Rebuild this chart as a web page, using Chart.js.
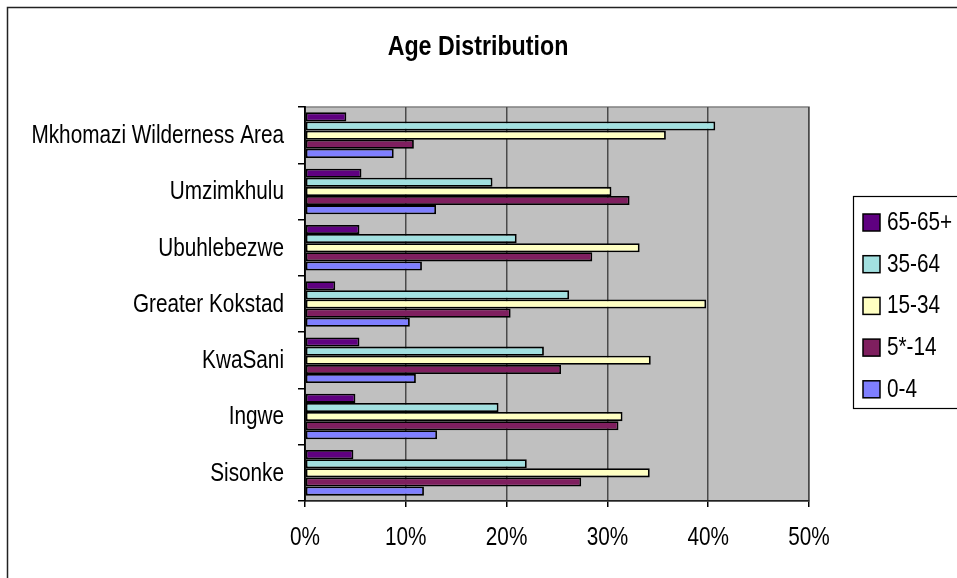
<!DOCTYPE html>
<html>
<head>
<meta charset="utf-8">
<title>Age Distribution</title>
<script src="https://cdn.jsdelivr.net/npm/chart.js@4.4.1/dist/chart.umd.min.js"></script>
<style>
    html, body { margin: 0; padding: 0; background: #fff; }
    #wrap { position: relative; width: 957px; height: 578px; }
</style>
</head>
<body>
<div id="wrap"><canvas id="ageChart"></canvas></div>
<script>
const FONT = "'Liberation Sans', Arial, sans-serif";
const NARROW = 0.83; // horizontal squeeze to get an Arial Narrow look

const areas = ['Mkhomazi Wilderness Area', 'Umzimkhulu', 'Ubuhlebezwe', 'Greater Kokstad', 'KwaSani', 'Ingwe', 'Sisonke'];
const seriesNames = ['65-65+', '35-64', '15-34', '5*-14', '0-4'];
const seriesColors = ['#5f0080', '#a2e0e0', '#ffffc2', '#7f1f5f', '#7f7fff'];

// percentages per area, same order as areas
const age65 = [4.1, 5.6, 5.4, 3.0, 5.4, 5.0, 4.8];
const age35 = [40.7, 18.6, 21.0, 26.2, 23.7, 19.2, 22.0];
const age15 = [35.8, 30.4, 33.2, 39.8, 34.3, 31.5, 34.2];
const age5 = [10.8, 32.2, 28.5, 20.4, 25.4, 31.1, 27.4];
const age0 = [8.8, 13.0, 11.6, 10.4, 11.0, 13.1, 11.8];

const xTicks = [0, 10, 20, 30, 40, 50];
const xTickLabels = ['0%', '10%', '20%', '30%', '40%', '50%'];

(function(){
    let seriesValues = [age65, age35, age15, age5, age0];
    let datasets = seriesNames.map(function(name, i){
        return {
            label: name,
            data: seriesValues[i],
            backgroundColor: seriesColors[i],
            borderColor: '#000',
            borderWidth: 1.8,
            borderSkipped: false,
            barPercentage: 1,
            categoryPercentage: 0.81
        };
    });

    function narrowText(ctx, text, x, y, align) {
        ctx.save();
        ctx.translate(x, y);
        ctx.scale(NARROW, 1);
        ctx.textAlign = align;
        ctx.fillText(text, 0, 0);
        ctx.restore();
    }

    // grey plot background, outer frame, title, axis labels and boxed legend
    const frame = {
        id: 'frame',
        beforeDraw(chart) {
            let ctx = chart.ctx;
            let a = chart.chartArea;
            ctx.save();
            ctx.fillStyle = '#c0c0c0';
            ctx.fillRect(a.left, a.top, a.right - a.left, a.bottom - a.top);
            ctx.strokeStyle = '#808080';
            ctx.lineWidth = 1.5;
            ctx.strokeRect(a.left, a.top, a.right - a.left, a.bottom - a.top);
            ctx.restore();
        },
        afterDraw(chart) {
            let ctx = chart.ctx;
            let xs = chart.scales.x;
            let ys = chart.scales.y;
            ctx.save();
            ctx.strokeStyle = '#222';
            ctx.lineWidth = 1.5;
            ctx.strokeRect(7.5, 7.5, 1000, 1000);

            ctx.fillStyle = '#000';
            ctx.textBaseline = 'middle';
            ctx.font = 'bold 28px ' + FONT;
            narrowText(ctx, 'Age Distribution', 478, 47, 'center');

            ctx.font = '25px ' + FONT;
            areas.forEach(function(name, i){
                narrowText(ctx, name, 284, ys.getPixelForTick(i) + 1, 'right');
            });
            xTicks.forEach(function(v, i){
                narrowText(ctx, xTickLabels[i], xs.getPixelForValue(v), 538, 'center');
            });

            ctx.strokeStyle = '#000';
            ctx.lineWidth = 1.2;
            ctx.strokeRect(853.5, 196.5, 200, 212);
            chart.data.datasets.forEach(function(ds, i){
                let cy = 222 + i * 41.7;
                ctx.fillStyle = ds.backgroundColor;
                ctx.fillRect(863, cy - 8, 17, 17);
                ctx.lineWidth = 1.5;
                ctx.strokeRect(863, cy - 8, 17, 17);
                ctx.fillStyle = '#000';
                narrowText(ctx, ds.label, 887, cy + 1, 'left');
            });
            ctx.restore();
        }
    };

    let ctx = document.getElementById('ageChart').getContext('2d');
    new Chart(ctx, {
        type: 'bar',
        data: {
            labels: areas,
            datasets: datasets
        },
        options: {
            indexAxis: 'y',
            responsive: true,
            maintainAspectRatio: false,
            animation: false,
            layout: {
                padding: { top: 107, right: 148, bottom: 0, left: 0 }
            },
            plugins: {
                legend: { display: false },
                title: { display: false },
                tooltip: { enabled: false }
            },
            scales: {
                x: {
                    min: 0,
                    max: 50,
                    afterBuildTicks(scale) {
                        scale.ticks = xTicks.map(function(v){ return { value: v }; });
                    },
                    afterFit(scale) {
                        scale.height = 77;
                    },
                    ticks: { display: false },
                    grid: {
                        color: '#4a4a4a',
                        lineWidth: 1.5,
                        tickColor: '#000',
                        tickLength: 6
                    },
                    border: { display: true, color: '#222', width: 1.5 }
                },
                y: {
                    afterFit(scale) {
                        scale.width = 305;
                    },
                    ticks: { display: false },
                    grid: {
                        offset: true,
                        drawOnChartArea: false,
                        tickColor: '#000',
                        tickLength: 7,
                        lineWidth: 1.5
                    },
                    border: { display: true, color: '#000', width: 1.8 }
                }
            }
        },
        plugins: [frame]
    });
})();
</script>
</body>
</html>
